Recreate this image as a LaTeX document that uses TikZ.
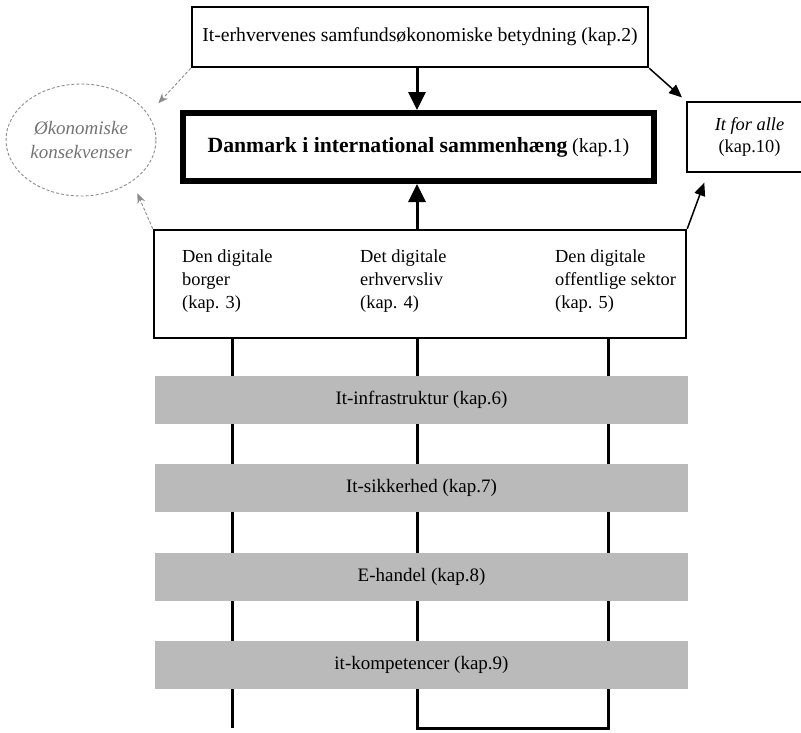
\documentclass[tikz,border=0pt]{standalone}
\usepackage{fontspec}
\setmainfont{Liberation Serif}
\usetikzlibrary{arrows.meta,shapes.geometric,positioning}

\begin{document}
\begin{tikzpicture}[x=1pt,y=-1pt,node distance=40pt,
  every node/.style={font=\fontsize{18.4}{22}\selectfont,inner sep=0pt},
  >={Triangle[length=18pt,width=17pt]}
]

\tikzstyle{plainbox}=[draw,line width=2.5pt]
\tikzstyle{mainbox}=[draw,line width=6pt]
\tikzstyle{layer}=[fill=black!27,minimum width=533pt,minimum height=48pt,font=\fontsize{19}{22}\selectfont]
\tikzstyle{column}=[line width=3pt]
\tikzstyle{ghost}=[draw=black!45,line width=0.9pt,dash pattern=on 3pt off 2pt]
\tikzstyle{ghosttip}=[-{Stealth[length=10pt,width=8pt]}]
\tikzstyle{sidearrow}=[line width=1.5pt,-{Triangle[length=13pt,width=11pt]}]
\tikzstyle{sector}=[anchor=north west,align=left,font=\fontsize{18.4}{23}\selectfont]

\useasboundingbox (0,0) rectangle (801,732);

\coordinate (colA) at (232,728);
\coordinate (colB) at (417,728);
\coordinate (colC) at (608,728);

\node[plainbox,minimum width=456pt,minimum height=60pt,font=\fontsize{19.7}{22}\selectfont] (top) at (420,37)
  {It-erhvervenes samfundsøkonomiske betydning (kap.2)};
\node[mainbox,minimum width=471pt,minimum height=68pt] (danmark) at (418.5,147)
  {{\fontsize{21.7}{26}\selectfont\bfseries Danmark i international sammenhæng}\ {\fontsize{20}{24}\selectfont(kap.1)}};
\node[plainbox,minimum width=125pt,minimum height=70pt,align=center] (alle) at (749.5,137)
  {\textit{It for alle}\\(kap.10)};
\node[ghost,ellipse,minimum width=150pt,minimum height=112pt,align=center,text=black!55,
  font=\fontsize{19}{24}\selectfont\itshape] (econ) at (81,140) {Økonomiske\\konsekvenser};

\node[plainbox,minimum width=532pt,minimum height=108pt] (sectors) at (420,284) {};
\node[sector] (borger) at (182,250) {Den digitale\\borger\\(kap. 3)};
\node[sector] (erhverv) at (360,250) {Det digitale\\erhvervsliv\\(kap. 4)};
\node[sector] (offentlig) at (555,250) {Den digitale\\offentlige sektor\\(kap. 5)};

\draw[column] (sectors.south -| colA) -- (colA);
\draw[column] (sectors.south -| colB) -- (colB) -- (colC) -- (sectors.south -| colC);

\node[layer] (infra) at (421.5,400) {It-infrastruktur (kap.6)};
\node[layer,below=of infra] (sikker) {It-sikkerhed (kap.7)};
\node[layer,below=of sikker] (handel) {E-handel (kap.8)};
\node[layer,below=of handel] (kompetence) {it-kompetencer (kap.9)};

\draw[column,->] (top.south -| colB) -- (colB |- danmark.north);
\draw[column,->] (sectors.north -| colB) -- (colB |- danmark.south);
\draw[sidearrow,shorten >=5pt] (top.south east) -- (alle.north west);
\draw[sidearrow,shorten >=10pt] (sectors.north east) -- ([xshift=22pt]alle.south west);
\draw[ghost,ghosttip,shorten >=15pt] (top.south west) -- (econ.21);
\draw[ghost,ghosttip,shorten >=13pt] (sectors.north west) -- (econ.-39);
\end{tikzpicture}
\end{document}
